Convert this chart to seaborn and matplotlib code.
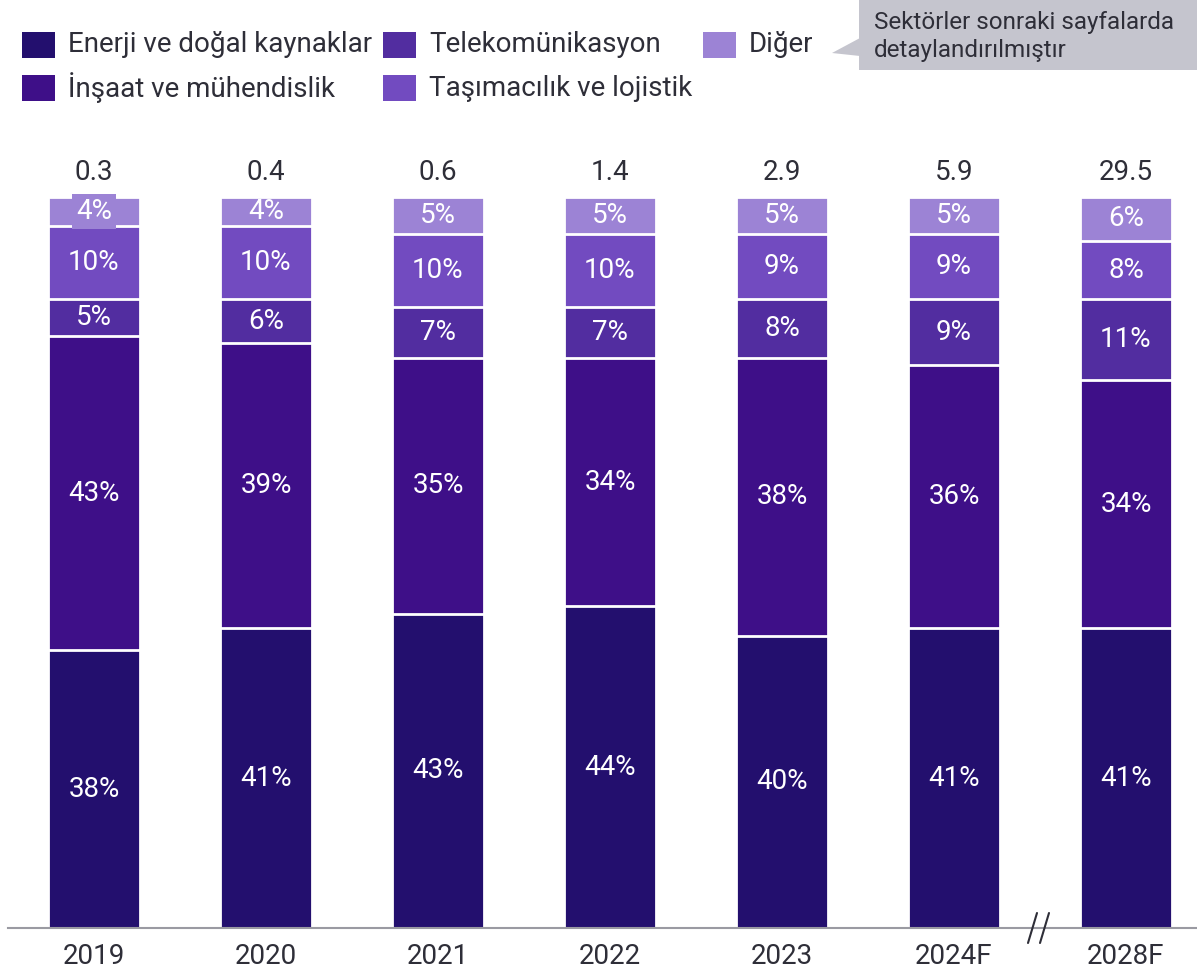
import numpy as np
import pandas as pd
import matplotlib
matplotlib.use("Agg")
import matplotlib.pyplot as plt
from matplotlib.patches import Rectangle, Polygon
from matplotlib.lines import Line2D
import seaborn as sns

# ---- data -------------------------------------------------------------
years = ["2019", "2020", "2021", "2022", "2023", "2024F", "2028F"]
totals = ["0.3", "0.4", "0.6", "1.4", "2.9", "5.9", "29.5"]
sectors = ["Enerji ve doğal kaynaklar", "İnşaat ve mühendislik",
           "Telekomünikasyon", "Taşımacılık ve lojistik", "Diğer"]
enerji = [38, 41, 43, 44, 40, 41, 41]
insaat = [43, 39, 35, 34, 38, 36, 34]
telekom = [5, 6, 7, 7, 8, 9, 11]
tasimacilik = [10, 10, 10, 10, 9, 9, 8]
diger = [4, 4, 5, 5, 5, 5, 6]
callout_lines = ["Sektörler sonraki sayfalarda", "detaylandırılmıştır"]

colors = ["#230F6E", "#3E0F88", "#522DA0", "#724BC0", "#9C83D5"]
TEXT = "#2E2E38"
FONT = "Roboto"
FS = 20

sns.set_theme(style="white")
plt.rcParams["font.family"] = [FONT, "DejaVu Sans"]

W, H = 1197, 971
fig = plt.figure(figsize=(W / 100, H / 100), dpi=100)


def fx(px):
    return px / W


def fy(py):
    return 1 - py / H


# axes: x-axis baseline at y=928px, 100% at y=197px
ax = fig.add_axes([fx(8), fy(928), fx(1197) - fx(8), fy(197) - fy(928)])

series = [enerji, insaat, telekom, tasimacilik, diger]
df = pd.DataFrame({"year": years})
cum = np.zeros(len(years))
cums = []
for s in series:
    cum = cum + np.array(s)
    cums.append(cum.copy())

# stacked bars: draw cumulative totals from the top layer down
for i in range(len(series) - 1, -1, -1):
    df["v"] = cums[i]
    sns.barplot(data=df, x="year", y="v", color=colors[i], saturation=1,
                width=0.535, edgecolor="white", linewidth=2, ax=ax,
                zorder=2)

ax.set_xlim(-0.5, (1197 - 94) / 172)
ax.set_ylim(0, 100)

# segment labels
for i, s in enumerate(series):
    bottoms = cums[i] - np.array(s)
    for j, v in enumerate(s):
        kw = {}
        if i == len(series) - 1 and j == 0:
            kw["bbox"] = dict(boxstyle="square,pad=0.15", fc=colors[i], ec="none")
        ax.text(j, bottoms[j] + v / 2, f"{v}%", ha="center", va="center",
                color="white", fontsize=FS, zorder=5, **kw)

# totals above bars
for j, t in enumerate(totals):
    ax.text(j, 103.3, t, ha="center", va="center", color=TEXT,
            fontsize=FS, clip_on=False)

ax.set_xlabel("")
ax.set_ylabel("")
ax.set_yticks([])
ax.tick_params(axis="x", length=0, pad=11, labelsize=FS, labelcolor=TEXT)
for side in ["top", "right", "left"]:
    ax.spines[side].set_visible(False)
ax.spines["bottom"].set_color("#9A9AA2")
ax.spines["bottom"].set_linewidth(1.5)
ax.spines["bottom"].set_zorder(3)

# axis break marks between 2024F and 2028F
for x0 in (1028, 1040):
    fig.add_artist(Line2D([fx(x0), fx(x0 + 9)], [fy(943), fy(913)],
                          color=TEXT, linewidth=1.5))

# legend
legend_pos = [(22, 45), (22, 88), (383, 45), (383, 88), (703, 45)]
for (lx, ly), name, c in zip(legend_pos, sectors, colors):
    fig.add_artist(Rectangle((fx(lx), fy(ly + 13)), fx(33), fy(0) - fy(26),
                             facecolor=c, edgecolor="none"))
    fig.text(fx(lx + 46), fy(ly), name, ha="left", va="center",
             color=TEXT, fontsize=FS)

# callout box
box = "#C5C5CE"
fig.add_artist(Rectangle((fx(859), fy(70)), fx(1197) - fx(859), fy(0) - fy(70),
                         facecolor=box, edgecolor="none"))
fig.add_artist(Polygon([(fx(860), fy(38)), (fx(832), fy(53)), (fx(860), fy(56))],
                       closed=True, facecolor=box, edgecolor="none"))
fig.text(fx(874), fy(22), callout_lines[0], ha="left", va="center",
         color=TEXT, fontsize=17.5)
fig.text(fx(874), fy(50), callout_lines[1], ha="left", va="center",
         color=TEXT, fontsize=17.5)

fig.savefig("out.png", dpi=100)
